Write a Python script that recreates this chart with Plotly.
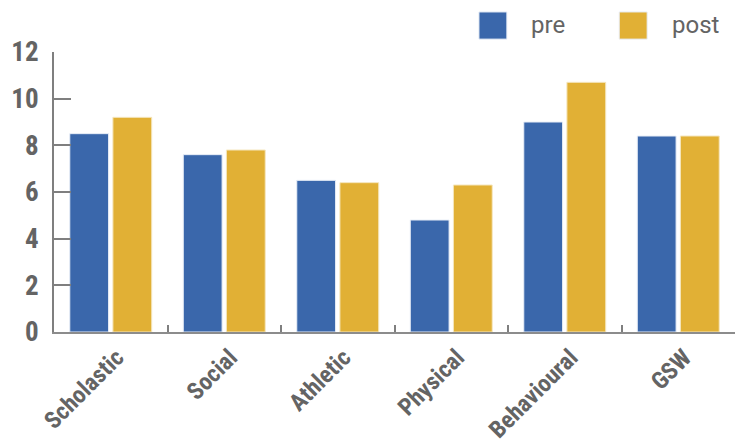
import plotly.graph_objects as go

categories = ["Scholastic", "Social", "Athletic", "Physical", "Behavioural", "GSW"]
pre_values = [8.5, 7.6, 6.5, 4.8, 9.0, 8.4]
post_values = [9.2, 7.8, 6.4, 6.3, 10.7, 8.4]
y_ticks = [0, 2, 4, 6, 8, 10, 12]
series_names = ["pre", "post"]

BLUE = "#3A67AB"
GOLD = "#E1B035"
GREY = "#646464"
AXIS = "#7F7F7F"
BOLD_FONT = "Roboto Condensed, Liberation Sans Narrow, Roboto, sans-serif"
LEGEND_FONT = "Roboto, Liberation Sans, sans-serif"

fig = go.Figure()
fig.add_trace(go.Bar(name=series_names[0], x=categories, y=pre_values,
                     marker=dict(color=BLUE, line=dict(color="#E8EEF7", width=1))))
fig.add_trace(go.Bar(name=series_names[1], x=categories, y=post_values,
                     marker=dict(color=GOLD, line=dict(color="#F5E6BE", width=1))))

# Manual large-swatch legend (paper coordinates)
legend_items = [(series_names[0], BLUE, 0.624), (series_names[1], GOLD, 0.830)]
for name, col, x0 in legend_items:
    fig.add_shape(type="rect", xref="paper", yref="paper",
                  x0=x0, x1=x0 + 0.041, y0=1.046, y1=1.143,
                  fillcolor=col, line=dict(color="#E8EEF7", width=1))
    fig.add_annotation(xref="paper", yref="paper", x=x0 + 0.074, y=1.096,
                       xanchor="left", yanchor="middle", text=name, showarrow=False,
                       font=dict(family=LEGEND_FONT, size=24, color=GREY))

fig.update_layout(
    width=744, height=443,
    margin=dict(l=54, r=9, t=52, b=111),
    paper_bgcolor="white", plot_bgcolor="white",
    barmode="group", bargap=0.24, bargroupgap=0.1,
    showlegend=False,
    xaxis=dict(showline=True, linecolor="#8C8C8C", linewidth=2, ticks="inside", ticklen=7,
               tickcolor=AXIS, tickwidth=1.5, tickson="boundaries", tickangle=-45,
               tickfont=dict(family=BOLD_FONT, size=24, color=GREY, weight="bold"),
               ticklabelstandoff=0, ticklabelshift=6,
               showgrid=False, zeroline=False, automargin=False),
    yaxis=dict(range=[0, 12], tickvals=y_ticks, showline=True, linecolor=AXIS, linewidth=2,
               ticks="inside", ticklen=17, tickcolor=AXIS, tickwidth=2,
               tickfont=dict(family=BOLD_FONT, size=27, color=GREY, weight="bold"),
               ticklabelstandoff=8, showgrid=False, zeroline=False, automargin=False),
)
fig.write_html("out.html")
